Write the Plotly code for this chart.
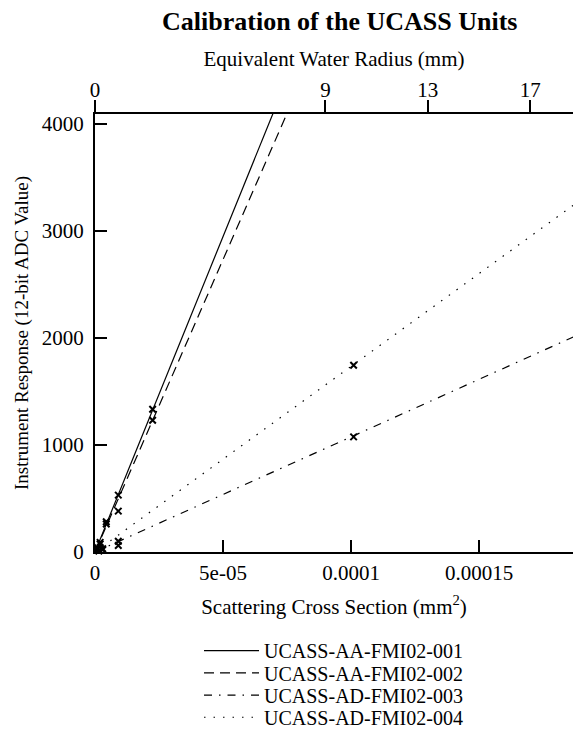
import plotly.graph_objects as go

# ---- data ----
series_names = ["UCASS-AA-FMI02-001", "UCASS-AA-FMI02-002",
                "UCASS-AD-FMI02-003", "UCASS-AD-FMI02-004"]

# calibration points: scattering cross section (mm^2) vs ADC value
pts_x_001 = [1.0e-6, 2.0e-6, 4.4e-6, 9.1e-6, 2.25e-5]
pts_y_001 = [40, 90, 283, 531, 1333]
pts_x_002 = [1.0e-6, 2.0e-6, 4.4e-6, 9.1e-6, 2.25e-5]
pts_y_002 = [30, 75, 261, 382, 1231]
pts_x_003 = [1.5e-6, 3.0e-6, 9.1e-6, 1.01e-4]
pts_y_003 = [10, 20, 60, 1075]
pts_x_004 = [1.5e-6, 3.0e-6, 9.1e-6, 1.01e-4]
pts_y_004 = [15, 30, 100, 1744]

# linear fit lines (end points)
fit_x = [0, 1.9e-4]
fit_y_001 = [0, 11191]
fit_y_002 = [0, 10374]
fit_y_003 = [0, 2042]
fit_y_004 = [0, 3293]

x_range = [0, 1.867e-4]
y_range = [0, 4090]

bottom_tickvals = [0, 5e-5, 1e-4, 1.5e-4]
bottom_ticktext = ["0", "5e-05", "0.0001", "0.00015"]
top_tickvals = [0, 9e-5, 1.3e-4, 1.7e-4]
top_ticktext = ["0", "9", "13", "17"]
y_tickvals = [0, 1000, 2000, 3000, 4000]

FONT = "Liberation Serif, Times New Roman, serif"

fig = go.Figure()

dashes = ["solid", "10px,6px", "8px,7px,1.5px,7px", "1.5px,8px"]
fits = [fit_y_001, fit_y_002, fit_y_003, fit_y_004]
pts = [(pts_x_001, pts_y_001), (pts_x_002, pts_y_002),
       (pts_x_003, pts_y_003), (pts_x_004, pts_y_004)]
legend_ids = ["legend", "legend2", "legend3", "legend4"]

for name, fy, d, lg in zip(series_names, fits, dashes, legend_ids):
    fig.add_trace(go.Scatter(x=fit_x, y=fy, mode="lines", name=name, legend=lg,
                             line=dict(color="black", width=1.2, dash=d)))

for (px, py) in pts:
    fig.add_trace(go.Scatter(x=px, y=py, mode="markers", showlegend=False,
                             cliponaxis=False,
                             marker=dict(symbol="x-thin", size=6.5, color="black",
                                         line=dict(color="black", width=2))))

# invisible trace for the top axis
fig.add_trace(go.Scatter(x=[0], y=[0], xaxis="x2", mode="markers",
                         marker=dict(opacity=0), showlegend=False, hoverinfo="skip"))

axis_common = dict(showline=True, linecolor="black", linewidth=2,
                   tickcolor="black", tickwidth=2, ticklen=12,
                   showgrid=False, zeroline=False, automargin=False,
                   tickfont=dict(family=FONT, size=21, color="black"))

legend_rows_y = [0.1123, 0.0820, 0.0517, 0.0215]
legend_style = dict(x=0.2176, xanchor="left", yanchor="middle", yref="container",
                    itemwidth=55,
                    bgcolor="rgba(0,0,0,0)",
                    font=dict(family=FONT, size=20, color="black"))

fig.update_layout(
    width=573, height=733,
    margin=dict(l=95, r=0, t=114, b=181, autoexpand=False),
    paper_bgcolor="white", plot_bgcolor="white",
    font=dict(family=FONT, color="black"),
    title=dict(text="<b>Calibration of the UCASS Units</b>",
               font=dict(family=FONT, size=26, color="black"),
               x=0.512, xref="paper", xanchor="center",
               y=0.9715, yref="container", yanchor="middle"),
    xaxis=dict(range=x_range, tickmode="array", tickvals=bottom_tickvals,
               ticktext=bottom_ticktext, ticks="inside", ticklabelstandoff=1,
               title=dict(text="Scattering Cross Section (mm<sup>2</sup>)",
                          font=dict(family=FONT, size=21, color="black"),
                          standoff=15),
               **axis_common),
    xaxis2=dict(range=x_range, overlaying="x", side="top", tickmode="array",
                tickvals=top_tickvals, ticktext=top_ticktext, ticks="outside",
                ticklabelstandoff=-5,
                title=dict(text="Equivalent Water Radius (mm)",
                           font=dict(family=FONT, size=21, color="black"),
                           standoff=5),
                **axis_common),
    yaxis=dict(range=y_range, tickmode="array", tickvals=y_tickvals,
               ticks="inside", ticklabelstandoff=5,
               title=dict(text="Instrument Response (12-bit ADC Value)",
                          font=dict(family=FONT, size=19, color="black"),
                          standoff=8),
               **axis_common),
    legend=dict(y=legend_rows_y[0], **legend_style),
    legend2=dict(y=legend_rows_y[1], **legend_style),
    legend3=dict(y=legend_rows_y[2], **legend_style),
    legend4=dict(y=legend_rows_y[3], **legend_style),
)

fig.write_html(
    "out.html",
    config={"displayModeBar": False},
    post_script="document.body.style.margin='0';"
                "document.documentElement.style.overflow='hidden';",
)
